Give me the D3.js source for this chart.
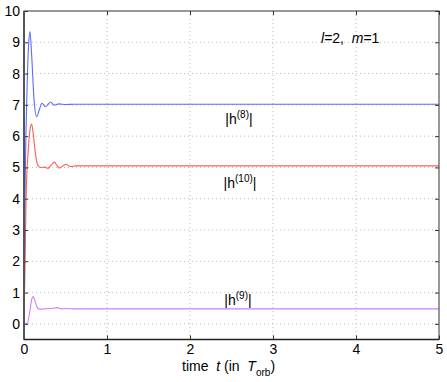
<!DOCTYPE html>
<html><head><meta charset="utf-8">
<script src="https://cdn.jsdelivr.net/npm/d3@7"></script>
<style>body{margin:0;background:#fff}svg{display:block;font-family:"Liberation Sans",Arial,sans-serif}text{white-space:pre}</style>
</head><body><svg id="c" width="447" height="382"></svg>
<script>
const xTicks = [0,1,2,3,4,5];
const yTicks = [0,1,2,3,4,5,6,7,8,9,10];
const tH8 = [0, 0.012, 0.032, 0.055, 0.072, 0.09, 0.12, 0.153, 0.185, 0.217, 0.257, 0.29, 0.32, 0.365, 0.42, 0.5, 0.6, 5];
const vH8 = [0, 4.0, 7.0, 8.9, 9.34, 8.7, 7.2, 6.62, 6.85, 7.05, 6.94, 7.02, 7.09, 6.99, 7.03, 7.01, 7.02, 7.02];
const tH10 = [0, 0.01, 0.025, 0.05, 0.075, 0.092, 0.11, 0.14, 0.17, 0.2, 0.25, 0.29, 0.33, 0.365, 0.4, 0.425, 0.47, 0.505, 0.56, 0.62, 5];
const vH10 = [0, 1.5, 4.0, 5.5, 6.25, 6.39, 6.1, 5.4, 5.05, 5.0, 5.01, 4.97, 5.08, 5.17, 5.05, 4.98, 5.05, 5.1, 5.03, 5.05, 5.05];
const tH9 = [0, 0.04, 0.07, 0.09, 0.112, 0.13, 0.16, 0.185, 0.25, 0.35, 0.4, 0.45, 0.5, 0.6, 5];
const vH9 = [0, 0.02, 0.4, 0.75, 0.87, 0.75, 0.52, 0.47, 0.48, 0.5, 0.52, 0.48, 0.49, 0.48, 0.48];
const seriesNames = ["|h(8)|","|h(10)|","|h(9)|"];

const svg = d3.select("#c");
const L=24, R=439, T=11, B=339.5;
const x = d3.scaleLinear().domain([0,5]).range([L,R]);
const y = d3.scaleLinear().domain([-0.5,10]).range([B,T]);

// grid
const g = svg.append("g");
xTicks.forEach(t=>{ if(t>0&&t<5) g.append("line").attr("x1",x(t)).attr("x2",x(t)).attr("y1",T).attr("y2",B)
  .attr("stroke","#bdbdbd").attr("stroke-width",1).attr("stroke-dasharray","1,3"); });
yTicks.forEach(t=>{ if(t<10) g.append("line").attr("x1",L).attr("x2",R).attr("y1",y(t)).attr("y2",y(t))
  .attr("stroke","#bdbdbd").attr("stroke-width",1).attr("stroke-dasharray","1,3"); });

// lines
const line = d3.line().x(d=>x(d[0])).y(d=>y(d[1])).curve(d3.curveMonotoneX);
const mk=(ts,vs)=>ts.map((t,i)=>[t,vs[i]]);
svg.append("path").datum(mk(tH9,vH9)).attr("d",line).attr("fill","none").attr("stroke","#d27cff").attr("stroke-width",1.1);
svg.append("path").datum(mk(tH10,vH10)).attr("d",line).attr("fill","none").attr("stroke","#ff5c5c").attr("stroke-width",1.1);
svg.append("path").datum(mk(tH8,vH8)).attr("d",line).attr("fill","none").attr("stroke","#5a6cff").attr("stroke-width",1.1);

// axes
const ax = svg.append("g").attr("transform",`translate(0,${B})`).call(d3.axisBottom(x).tickValues(xTicks).tickSize(-4).tickPadding(5).tickFormat(d3.format("d")));
const axT = svg.append("g").attr("transform",`translate(0,${T})`).call(d3.axisTop(x).tickValues(xTicks).tickSize(-4).tickFormat(""));
const ay = svg.append("g").attr("transform",`translate(${L},0)`).call(d3.axisLeft(y).tickValues(yTicks).tickSize(-4).tickPadding(4).tickFormat(d3.format("d")));
const ayR = svg.append("g").attr("transform",`translate(${R},0)`).call(d3.axisRight(y).tickValues(yTicks).tickSize(-4).tickFormat(""));
[ax,axT,ay,ayR].forEach(a=>{a.select(".domain").remove(); a.selectAll("line").attr("stroke","#333");
  a.selectAll("text").attr("font-size",14).attr("fill","#000").attr("font-family","Liberation Sans, Arial, sans-serif");});
svg.append("rect").attr("x",L).attr("y",T).attr("width",R-L).attr("height",B-T).attr("fill","none").attr("stroke","#333").attr("stroke-width",1);
svg.append("line").attr("x1",L).attr("x2",L).attr("y1",T).attr("y2",B).attr("stroke","#555").attr("stroke-width",2);
svg.append("line").attr("x1",L).attr("x2",R).attr("y1",B).attr("y2",B).attr("stroke","#222").attr("stroke-width",1.5);

// labels
function hLabel(cx, by, sup){
  const t = svg.append("text").attr("x",cx).attr("y",by).attr("text-anchor","middle").attr("font-size",14);
  t.append("tspan").text("|h");
  t.append("tspan").attr("font-size",10).attr("dy",-6).text("("+sup+")");
  t.append("tspan").attr("dy",6).text("|");
}
hLabel(239,124,"8");
hLabel(240,188,"10");
hLabel(238,305,"9");

const lm = svg.append("text").attr("x",321).attr("y",43).attr("font-size",14);
lm.append("tspan").attr("font-style","italic").text("l");
lm.append("tspan").text("=2,  ");
lm.append("tspan").attr("font-style","italic").text("m");
lm.append("tspan").text("=1");

const xl = svg.append("text").attr("x",182).attr("y",371).attr("font-size",14);
xl.append("tspan").text("time  ");
xl.append("tspan").attr("font-style","italic").text("t");
xl.append("tspan").text(" (in  ");
xl.append("tspan").attr("font-style","italic").text("T");
xl.append("tspan").attr("font-size",10).attr("dy",5).text("orb");
xl.append("tspan").attr("dy",-5).text(")");
</script></body></html>
